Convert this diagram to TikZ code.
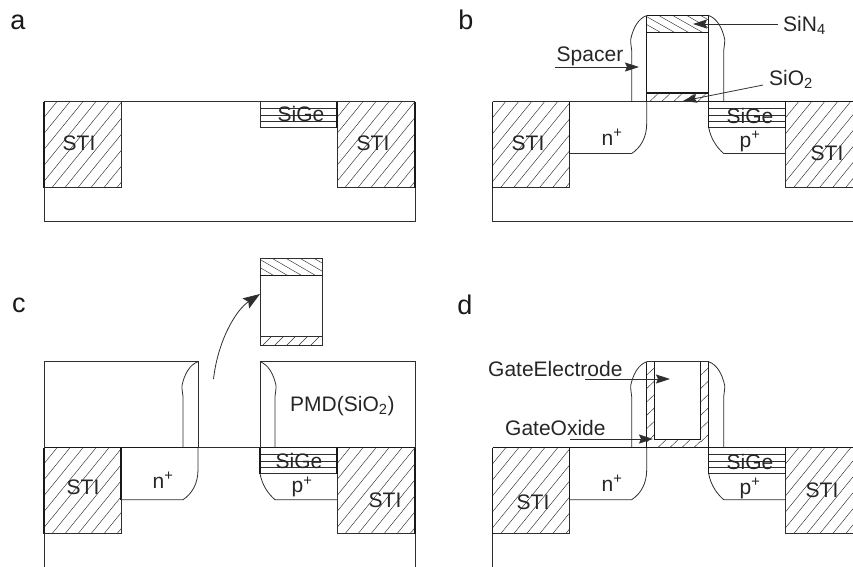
\documentclass[tikz,border=0pt]{standalone}
\usepackage{fontspec}
\setmainfont{Liberation Sans}
\usetikzlibrary{arrows.meta}
\definecolor{ink}{gray}{0.18}
\tikzset{
  thin line/.style={draw=ink,line width=0.8pt},
  thick line/.style={draw=black!90,line width=1.15pt},
  hatch line/.style={draw=ink,line width=0.45pt},
  lbl/.style={inner sep=0pt,text=black!85,font=\fontsize{21}{23}\selectfont},
  panel/.style={inner sep=0pt,text=black!90,font=\fontsize{27}{29}\selectfont},
  pointer/.style={draw=ink,line width=0.8pt,-{Stealth[length=14pt,width=9pt,inset=2pt]}},
  bigpointer/.style={draw=ink,line width=0.8pt,-{Stealth[length=17pt,width=12pt,inset=3pt]}},
}
% rectangle filled with parallel lines: x1,y1,x2,y2,spacing,slant
\newcommand{\hatchbox}[6]{%
  \begin{scope}
    \clip (#1,#2) rectangle (#3,#4);
    \pgfmathsetmacro{\hs}{#1-abs(#6)-#5}
    \pgfmathsetmacro{\hn}{\hs+#5}
    \foreach \hx in {\hs,\hn,...,#3}{
      \pgfmathsetmacro{\hb}{#6>0 ? \hx : \hx+abs(#6)}
      \draw[hatch line] (\hb,#4) -- ++(#6,#2-#4);
    }
  \end{scope}}
% both STI blocks and the substrate outline
\newcommand{\substrate}[1]{%
  \hatchbox{0}{0}{77}{86}{13}{70}
  \hatchbox{293}{0}{371}{86}{13}{70}
  \draw[thick line] (0,86) -- (0,0);
  \draw[thin line] (0,86) -- (77,86);
  \draw[thin line] (77,86) -- (77,#1);
  \draw[thin line] (293,86) -- (371,86);
  \draw[thin line] (293,26) -- (293,86);
  \draw[thick line] (371,0) -- (371,86);
  \draw[thin line] (0,86) -- (0,120);
  \draw[thin line] (371,86) -- (371,120);
}
\newcommand{\sige}{%
  \foreach \ly in {7,13.5,20}{\draw[thin line] (216,\ly) -- (293,\ly);}
  \draw[thin line] (216,26) -- (293,26);
  \draw[thick line] (216,0) -- (216,26);
  \draw[thick line] (293,0) -- (293,26);
}
\newcommand{\junctions}{%
  \draw[thick line] (77,0) -- (77,52);
  \draw[thin line] (77,52) -- (139,52) .. controls (148,46) and (154,36) .. (154,22) -- (154,0);
  \draw[thin line] (216,26) .. controls (218,37) and (224,46) .. (231,52) -- (293,52);
}
% spacers: gate-side x, outer x, top y, bottom y
\newcommand{\spacer}[4]{%
  \draw[thin line] (#1,#3) .. controls ({#1+0.55*(#2-#1)},#3+3) and ({#2+0.1*(#1-#2)},#3+12) .. ({#2+0.07*(#2-#1)},#3+24)
     .. controls ({#2+0.07*(#2-#1)},#3+28) and ({#2+0.03*(#2-#1)},#3+31) .. (#2,#3+35) -- (#2,#4);
}
\begin{document}
\begin{tikzpicture}[x=1pt,y=-1pt]
\clip (0,0) rectangle (853,566);

% ---------- a
\begin{scope}[shift={(44,101.5)}]
  \substrate{86}
  \draw[thin line] (0,120) -- (371,120);
  \draw[thin line] (0,0) -- (371,0);
  \draw[thin line] (77,0) -- (77,86);
  \foreach \ly in {7,13.5,20,26}{\draw[thin line] (216,\ly) -- (293,\ly);}
  \draw[thin line] (216,0) -- (216,26);
  \draw[thick line] (293,0) -- (293,26);
\end{scope}
\node[panel] (la) at (18,22) {a};
\node[lbl] (a1) at (79,143) {STI};
\node[lbl] (a2) at (373,143) {STI};
\node[lbl] (a3) at (301,114) {SiGe};

% ---------- b
\begin{scope}[shift={(492.7,101.5)}]
  \substrate{52}
  \draw[thin line] (0,120) -- (371,120);
  \sige
  \junctions
  \draw[thin line] (0,0) -- (216,0);
  \draw[thick line] (216,0) -- (371,0);
  \hatchbox{154}{-86}{216}{-69}{14}{-30}
  \hatchbox{154}{-8.5}{216}{0}{12}{9}
  \draw[thick line] (154,-86) -- (216,-86) -- (216,0);
  \draw[thick line] (154,-86) -- (154,0);
  \draw[thick line] (154,-69) -- (216,-69);
  \draw[thick line] (154,-8.5) -- (216,-8.5);
  \spacer{154}{139}{-86}{0}
  \spacer{216}{231}{-86}{0}
\end{scope}
\node[panel] (lb) at (466,20) {b};
\node[lbl] (b1) at (528,143) {STI};
\node[lbl] (b2) at (827,153) {STI};
\node[lbl] (b3) at (612,137) {n\textsuperscript{+}};
\node[lbl] (b4) at (750,141.5) {p\textsuperscript{+}};
\node[lbl] (b5) at (750,115.5) {SiGe};
\node[lbl] (spc) at (590,56) {Spacer};
\node[lbl,anchor=west] (sin) at (783,25) {SiN\textsubscript{4}};
\node[lbl,anchor=west] (sio) at (769,79) {SiO\textsubscript{2}};
\coordinate (spcs) at (554.5,67);
\coordinate (spct) at (639,67);
\coordinate (sint) at (693,24);
\coordinate (sins) at (778,24);
\coordinate (siot) at (683,101);
\coordinate (sios) at (763,85);
\draw[pointer] (spcs) -- (spct);
\draw[pointer] (sins) -- (sint);
\draw[pointer] (sios) -- (siot);

% ---------- c
\begin{scope}[shift={(44,447.7)}]
  \substrate{52}
  \draw[thin line] (0,120) -- (0,130);
  \draw[thin line] (371,120) -- (371,130);
  \sige
  \junctions
  \draw[thick line] (0,0) -- (154,0);
  \draw[thin line] (154,0) -- (216,0);
  \draw[thick line] (216,0) -- (371,0);
  \draw[thin line] (0,0) -- (0,-86) -- (154,-86) -- (154,0);
  \draw[thin line] (216,0) -- (216,-86) -- (371,-86) -- (371,0);
  \spacer{154}{139}{-86}{0}
  \spacer{216}{231}{-86}{0}
\end{scope}
\hatchbox{260}{258.3}{322}{275.7}{14}{-30}
\hatchbox{260}{336}{322}{345}{12}{9}
\draw[thin line] (260,258.3) rectangle (322,345);
\draw[thick line] (260,275.7) -- (322,275.7);
\draw[thin line] (260,336) -- (322,336);
\node[panel] (lc) at (19,305) {c};
\node[lbl] (c1) at (83,487) {STI};
\node[lbl] (c2) at (385,500) {STI};
\node[lbl] (c3) at (163,480) {n\textsuperscript{+}};
\node[lbl] (c4) at (302,487) {p\textsuperscript{+}};
\node[lbl] (c5) at (299,460.5) {SiGe};
\node[lbl,anchor=west] (pmd) at (290,406) {PMD(SiO\textsubscript{2})};
\coordinate (gs) at (213.5,379);
\coordinate (gt) at (260,294);
\draw[bigpointer] (gs) .. controls (218,340) and (236,310) .. (gt);

% ---------- d
\begin{scope}[shift={(492.7,447.7)}]
  \substrate{52}
  \draw[thin line] (0,120) -- (0,130);
  \sige
  \junctions
  \draw[thick line] (0,0) -- (371,0);
  \hatchbox{154}{-86}{162}{0}{14}{90}
  \hatchbox{208}{-86}{216}{0}{14}{90}
  \hatchbox{162}{-8.5}{208}{0}{12}{9}
  \draw[thick line] (154,-86) -- (154,0);
  \draw[thick line] (216,-86) -- (216,0);
  \draw[thick line] (162,-86) -- (162,-8.5) -- (208,-8.5) -- (208,-86);
  \draw[thin line] (154,-86) -- (216,-86);
  \spacer{154}{139}{-86}{0}
  \spacer{216}{231}{-86}{0}
\end{scope}
\node[panel] (ld) at (465,305) {d};
\node[lbl] (d1) at (533,502) {STI};
\node[lbl] (d2) at (822,490) {STI};
\node[lbl] (d3) at (612,483) {n\textsuperscript{+}};
\node[lbl] (d4) at (750,488.5) {p\textsuperscript{+}};
\node[lbl] (d5) at (750,461.5) {SiGe};
\node[lbl,anchor=west] (ge) at (488,369) {GateElectrode};
\node[lbl,anchor=west] (go) at (505,428) {GateOxide};
\coordinate (ges) at (585,379);
\coordinate (get) at (670,379);
\coordinate (gos) at (570,439);
\coordinate (got) at (653,439);
\draw[pointer] (ges) -- (get);
\draw[pointer] (gos) -- (got);
\end{tikzpicture}
\end{document}
